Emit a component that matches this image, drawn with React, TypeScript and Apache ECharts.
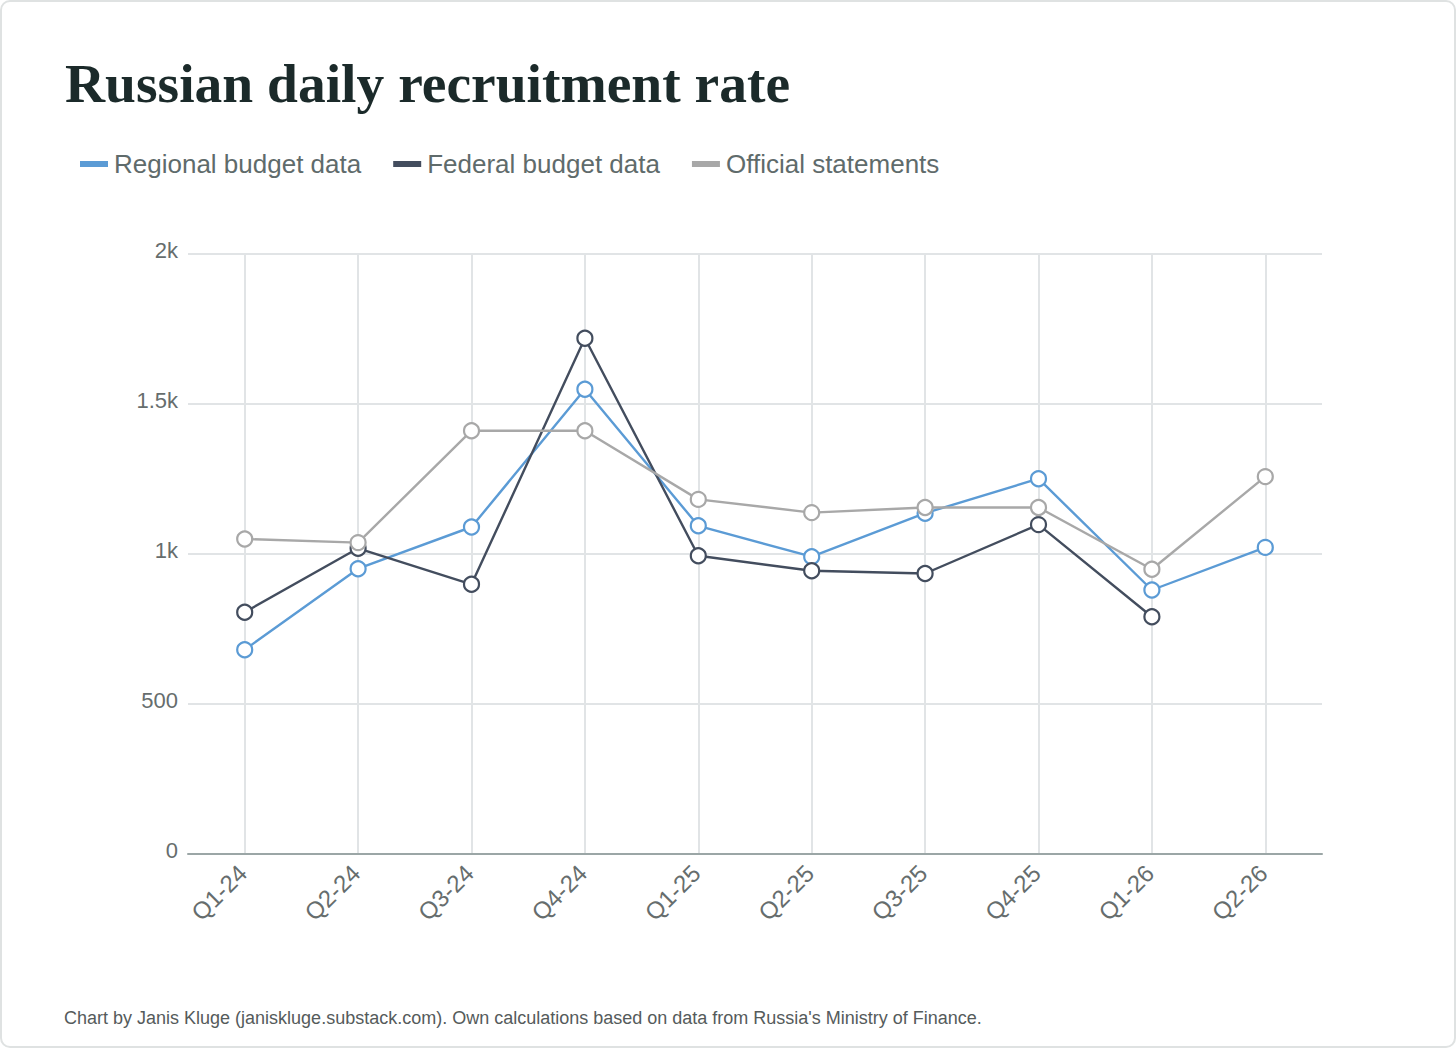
import React, { useEffect, useRef } from "react";
import * as echarts from "echarts";

const categories = ["Q1-24", "Q2-24", "Q3-24", "Q4-24", "Q1-25", "Q2-25", "Q3-25", "Q4-25", "Q1-26", "Q2-26"];
const regional = [681, 951, 1090, 1549, 1094, 991, 1136, 1251, 880, 1022];
const federal: (number | null)[] = [806, 1019, 899, 1719, 994, 944, 935, 1098, 791, null];
const official = [1050, 1038, 1411, 1411, 1182, 1138, 1155, 1155, 949, 1258];
const yTicks = [0, 500, 1000, 1500, 2000];

const TITLE = "Russian daily recruitment rate";
const FOOTER = "Chart by Janis Kluge (janiskluge.substack.com). Own calculations based on data from Russia's Ministry of Finance.";

const COLORS = { regional: "#5b9bd5", federal: "#434d5e", official: "#a8a8a8" };

export default function App() {
  const ref = useRef<HTMLDivElement>(null);
  useEffect(() => {
    document.body.style.margin = "0";
    if (!ref.current) return;
    const chart = echarts.init(ref.current, undefined, { renderer: "svg" });
    const mk = (name: string, data: (number | null)[], color: string) => ({
      name,
      type: "line",
      data,
      symbol: "circle",
      symbolSize: 15,
      showSymbol: true,
      lineStyle: { color, width: 2.4 },
      itemStyle: { color: "#ffffff", borderColor: color, borderWidth: 2.2 },
      emphasis: { disabled: true },
    });
    chart.setOption({
      animation: false,
      backgroundColor: "transparent",
      title: {
        text: TITLE,
        left: 65,
        top: 55,
        padding: 0,
        textStyle: {
          fontFamily: "Liberation Serif, DejaVu Serif, serif",
          fontWeight: "bold",
          fontSize: 55.5,
          color: "#1b2a2a",
        },
      },
      legend: {
        left: 80,
        top: 151,
        padding: 0,
        icon: "rect",
        itemWidth: 26,
        itemHeight: 4,
        itemGap: 32,
        textStyle: {
          fontFamily: "Liberation Sans, Arial, sans-serif",
          fontSize: 26,
          color: "#5f6b6b",
          padding: [0, 0, 0, 2],
        },
        data: [
          { name: "Regional budget data", itemStyle: { color: COLORS.regional } },
          { name: "Federal budget data", itemStyle: { color: COLORS.federal } },
          { name: "Official statements", itemStyle: { color: COLORS.official } },
        ],
      },
      grid: { left: 188, right: 134, top: 254, bottom: 194, containLabel: false },
      xAxis: {
        type: "category",
        data: categories,
        boundaryGap: true,
        axisLine: { show: true, lineStyle: { color: "#9ba6a6", width: 2 } },
        axisTick: { show: false, alignWithLabel: true },
        splitLine: { show: true, alignWithLabel: true, lineStyle: { color: "#e1e4e6", width: 2 } },
        axisLabel: {
          rotate: 45,
          margin: 13,
          fontFamily: "Liberation Sans, Arial, sans-serif",
          fontSize: 24,
          color: "#666d6d",
          padding: [0, 3, 0, 0],
        },
      },
      yAxis: {
        type: "value",
        min: yTicks[0],
        max: yTicks[yTicks.length - 1],
        interval: 500,
        axisLine: { show: false },
        axisTick: { show: false },
        splitLine: { show: true, lineStyle: { color: "#e1e4e6", width: 2 } },
        axisLabel: {
          margin: 10,
          fontFamily: "Liberation Sans, Arial, sans-serif",
          fontSize: 22,
          color: "#666d6d",
          verticalAlign: "bottom",
          lineHeight: 8,
          formatter: (v: number) => (v >= 1000 ? v / 1000 + "k" : String(v)),
        },
      },
      graphic: [
        {
          type: "text",
          left: 64,
          top: 1009,
          style: {
            text: FOOTER,
            fontFamily: "Liberation Sans, Arial, sans-serif",
            fontSize: 18,
            fill: "#555b5b",
          },
        },
      ],
      series: [
        mk("Regional budget data", regional, COLORS.regional),
        mk("Federal budget data", federal, COLORS.federal),
        mk("Official statements", official, COLORS.official),
      ],
    });
    return () => chart.dispose();
  }, []);
  return (
    <div
      style={{
        position: "absolute",
        left: 0,
        top: 0,
        width: 1456,
        height: 1048,
        boxSizing: "border-box",
        border: "2px solid #dfe2e2",
        borderRadius: 10,
        background: "#fff",
        overflow: "hidden",
      }}
    >
      <div ref={ref} style={{ position: "absolute", left: -2, top: -2, width: 1456, height: 1048 }} />
    </div>
  );
}
